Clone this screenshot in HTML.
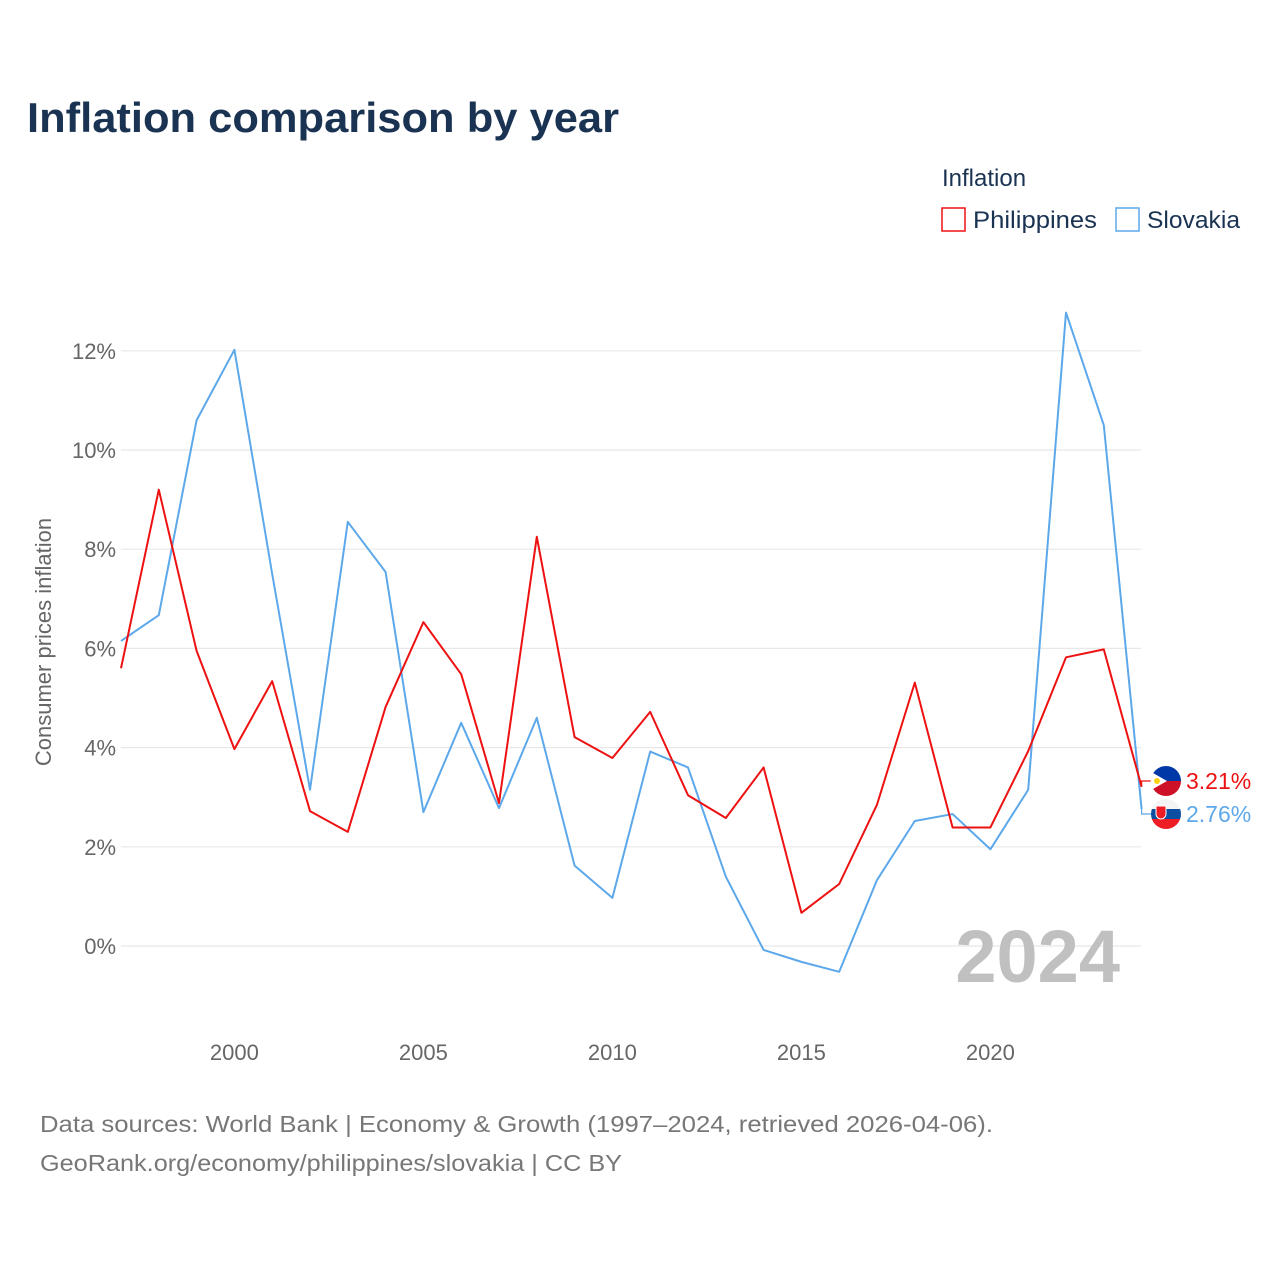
<!DOCTYPE html>
<html><head><meta charset="utf-8"><style>
html,body{margin:0;padding:0;background:#fff;}
svg{display:block;font-family:"Liberation Sans",sans-serif;}
</style></head><body>
<svg id="chart" width="1280" height="1280" viewBox="0 0 1280 1280">
<text x="27" y="132" font-size="42" font-weight="bold" fill="#1a3352" textLength="592" lengthAdjust="spacingAndGlyphs">Inflation comparison by year</text>
<text x="942" y="186" font-size="24" fill="#1a3352">Inflation</text>
<g>
<rect x="942" y="208" width="23" height="23" fill="none" stroke="#ee1111" stroke-width="1.5"/>
<text x="973" y="228" font-size="24" fill="#1a3352" textLength="124" lengthAdjust="spacingAndGlyphs">Philippines</text></g>
<g>
<rect x="1116" y="208" width="23" height="23" fill="none" stroke="#5ca8ea" stroke-width="1.5"/>
<text x="1147" y="228" font-size="24" fill="#1a3352" textLength="93" lengthAdjust="spacingAndGlyphs">Slovakia</text></g>
<g id="grid"></g><g id="xt"></g><g id="series"></g>
<text transform="translate(51,642) rotate(-90)" text-anchor="middle" font-size="22" fill="#666">Consumer prices inflation</text>
<text x="1120" y="982" text-anchor="end" font-size="74" font-weight="bold" fill="#c0c0c0">2024</text>
<text x="40" y="1132" font-size="23" fill="#777" textLength="953" lengthAdjust="spacingAndGlyphs">Data sources: World Bank | Economy &amp; Growth (1997–2024, retrieved 2026-04-06).</text>
<text x="40" y="1171" font-size="23" fill="#777" textLength="582" lengthAdjust="spacingAndGlyphs">GeoRank.org/economy/philippines/slovakia | CC BY</text>
</svg>
<script>
const years=[1997,1998,1999,2000,2001,2002,2003,2004,2005,2006,2007,2008,2009,2010,2011,2012,2013,2014,2015,2016,2017,2018,2019,2020,2021,2022,2023,2024];
const philippines=[5.6,9.2,5.95,3.97,5.34,2.72,2.3,4.82,6.53,5.48,2.88,8.25,4.21,3.79,4.72,3.04,2.58,3.6,0.67,1.25,2.85,5.31,2.39,2.39,3.93,5.82,5.98,3.21];
const slovakia=[6.15,6.67,10.6,12.02,7.5,3.15,8.55,7.54,2.7,4.5,2.78,4.6,1.62,0.97,3.92,3.6,1.4,-0.08,-0.32,-0.52,1.33,2.52,2.66,1.95,3.15,12.77,10.5,2.76];
const yTicks=[0,2,4,6,8,10,12];
const xTicks=[2000,2005,2010,2015,2020];
const NS="http://www.w3.org/2000/svg";
const x=v=>121+(v-1997)*(1141.6-121)/27;
const y=v=>946-v*49.6;
function mk(t,a,p){const e=document.createElementNS(NS,t);for(const k in a)e.setAttribute(k,a[k]);p.appendChild(e);return e;}
const grid=document.getElementById('grid'),xt=document.getElementById('xt'),ser=document.getElementById('series');
yTicks.forEach(t=>{
const l=mk('line',{x1:121,x2:1141,y1:y(t),y2:y(t),stroke:'#e8e8e8','stroke-width':1.2},grid);


const s=mk('text',{x:116,y:y(t)+8,'text-anchor':'end','font-size':22,fill:'#666'},grid);
s.textContent=t+'%';


});
xTicks.forEach(t=>{
const s=mk('text',{x:x(t),y:1060,'text-anchor':'middle','font-size':22,fill:'#666'},xt);
s.textContent=t;


});
function line(vals,col,name){
const p=mk('polyline',{points:vals.map((v,i)=>x(years[i])+','+y(v)).join(' '),fill:'none',stroke:col,'stroke-width':2,'stroke-linejoin':'round'},ser);


}
line(slovakia,'#5ca8ea','line-slovakia');
line(philippines,'#ee1111','line-philippines');
const lastP=philippines[philippines.length-1],lastS=slovakia[slovakia.length-1];
const ex=x(2024);
let ly=781;
mk('polyline',{points:`${ex},${y(lastP)} ${ex},${ly} ${ex+10},${ly}`,fill:'none',stroke:'#ee1111','stroke-width':1.2},ser);
let g=mk('g',{},ser);


mk('path',{d:`M1151,${ly} A15,15 0 0 1 1181,${ly} Z`,fill:'#0038a8'},g);
mk('path',{d:`M1151,${ly} A15,15 0 0 0 1181,${ly} Z`,fill:'#ce1126'},g);
mk('path',{d:`M1153,${ly-8} L1167,${ly} L1153,${ly+8} A15,15 0 0 1 1153,${ly-8} Z`,fill:'#fff'},g);
mk('circle',{cx:1157,cy:ly,r:3,fill:'#fcd116'},g);
let t=mk('text',{x:1186,y:ly+8,'font-size':23,fill:'#ee1111'},g);t.textContent=lastP.toFixed(2)+'%';
ly=814;
mk('polyline',{points:`${ex},${y(lastS)} ${ex},${ly} ${ex+10},${ly}`,fill:'none',stroke:'#5ca8ea','stroke-width':1.2},ser);
g=mk('g',{},ser);


mk('clipPath',{id:'skc'},g);
mk('circle',{cx:1166,cy:ly,r:15},document.getElementById('skc'));
const fg=mk('g',{'clip-path':'url(#skc)'},g);
mk('rect',{x:1151,y:ly-15,width:30,height:10,fill:'#f4f4f4'},fg);
mk('rect',{x:1151,y:ly-5,width:30,height:10,fill:'#0b4ea2'},fg);
mk('rect',{x:1151,y:ly+5,width:30,height:10,fill:'#ee1c25'},fg);
mk('path',{d:`M1156,${ly-8} h10 v8 a5,5 0 0 1 -10,0 Z`,fill:'#ee1c25',stroke:'#fff','stroke-width':1},fg);
t=mk('text',{x:1186,y:ly+8,'font-size':23,fill:'#5ca8ea'},g);t.textContent=lastS.toFixed(2)+'%';
</script>
</body></html>
